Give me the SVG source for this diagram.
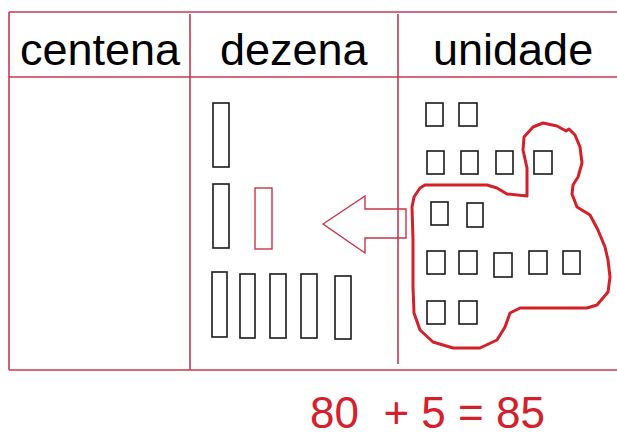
<svg xmlns="http://www.w3.org/2000/svg" width="617" height="437" viewBox="0 0 617 437">
<style>
.grid{stroke:#c8374e;stroke-width:1.6;fill:none}
.hdr{font-family:"Liberation Sans",Arial,sans-serif;font-size:45px;fill:#000}
.blk{fill:none;stroke:#1a1a1a;stroke-width:1.6}
.red{fill:none;stroke:#cc3344;stroke-width:1.4}
.blob{fill:none;stroke:#d42028;stroke-width:3;stroke-linejoin:round;stroke-linecap:round}
.eq{font-family:"Liberation Sans",Arial,sans-serif;font-size:44px;fill:#d4202c}
</style>
<rect width="617" height="437" fill="#fff"/>
<g id="table">
<line class="grid" x1="9" y1="12" x2="617" y2="12"/>
<line class="grid" x1="9" y1="77" x2="617" y2="77"/>
<line class="grid" x1="9" y1="370" x2="617" y2="370"/>
<line class="grid" x1="9" y1="12" x2="9" y2="370"/>
<line class="grid" x1="190" y1="14" x2="190" y2="370"/>
<line class="grid" x1="398" y1="14" x2="398" y2="364"/>
</g>
<g id="headers">
<text class="hdr" x="20" y="65">centena</text>
<text class="hdr" x="220" y="65">dezena</text>
<text class="hdr" x="433" y="65">unidade</text>
</g>
<g id="dezena-bars">
<rect class="blk" x="213" y="103" width="16" height="64"/>
<rect class="blk" x="213" y="184" width="16" height="64"/>
<rect class="red" x="255" y="188" width="17" height="61"/>
<rect class="blk" x="212" y="272" width="15" height="65"/>
<rect class="blk" x="240" y="274" width="15" height="64"/>
<rect class="blk" x="270" y="274" width="16" height="64"/>
<rect class="blk" x="301" y="274" width="16" height="64"/>
<rect class="blk" x="335" y="276" width="16" height="63"/>
</g>
<g id="unidade-squares">
<rect class="blk" x="426" y="103" width="17" height="23"/>
<rect class="blk" x="459" y="103" width="18" height="23"/>
<rect class="blk" x="427" y="151" width="17" height="23"/>
<rect class="blk" x="461" y="151" width="17" height="23"/>
<rect class="blk" x="496" y="151" width="17" height="23"/>
<rect class="blk" x="534" y="151" width="18" height="23"/>
<rect class="blk" x="431" y="202" width="17" height="23"/>
<rect class="blk" x="467" y="203" width="16" height="24"/>
<rect class="blk" x="427" y="251" width="18" height="23"/>
<rect class="blk" x="459" y="251" width="18" height="23"/>
<rect class="blk" x="494" y="253" width="18" height="24"/>
<rect class="blk" x="529" y="251" width="18" height="23"/>
<rect class="blk" x="563" y="251" width="17" height="23"/>
<rect class="blk" x="427" y="301" width="18" height="23"/>
<rect class="blk" x="459" y="301" width="18" height="23"/>
</g>
<g id="connectors">
<polygon class="red" points="323,224 365,196 365,209 406,209 406,238 365,238 365,253"/>
<path class="blob" d="M425,185 L487,185 L497,188 L507,194 L527,196 L527,168 L523,150 L524,137 L533,127 L543,123 L557,126 L566,131 L569,129 L575,135 L580,147 L582,163 L578,177 L573,185 L572,194 L577,207 L590,215 L598,230 L605,247 L608,260 L610,277 L608,292 L597,305 L587,308 L520,308 L510,313 L505,327 L497,340 L480,348 L453,348 L433,342 L420,330 L414,313 L413,287 L413,240 L412,207 L414,197 L420,188 Z"/>
</g>
<g id="equation">
<text class="eq" x="310" y="428" xml:space="preserve">80  + 5 = 85</text>
</g>
</svg>
